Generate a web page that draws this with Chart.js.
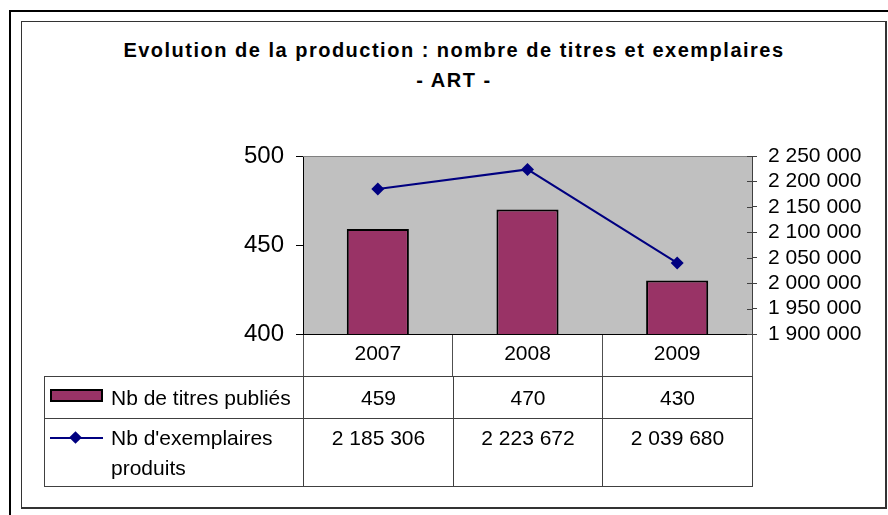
<!DOCTYPE html>
<html lang="fr">
<head>
<meta charset="utf-8">
<title>Evolution de la production - ART</title>
<script src="https://cdn.jsdelivr.net/npm/chart.js@4.4.1/dist/chart.umd.min.js"></script>
<style>
  html, body { margin: 0; padding: 0; background: #fff; }
  body {
    width: 888px; height: 515px; position: relative; overflow: hidden;
    font-family: "Liberation Sans", Arial, sans-serif; color: #000;
  }
  #outer {
    position: absolute; left: 9px; top: 10px; width: 879px; height: 505px;
    border-top: 2px solid #000; border-left: 2px solid #000; box-sizing: border-box;
  }
  #inner {
    position: absolute; left: 21px; top: 21px; width: 866px; height: 488px;
    border: 1px solid #333; border-right-width: 2px; border-bottom-width: 2px;
    box-sizing: border-box;
  }
  #title {
    position: absolute; left: 21px; width: 866px; top: 35px;
    text-align: center; font-weight: bold; font-size: 20px; letter-spacing: 1.5px;
    line-height: 30px;
  }
  #chart { position: absolute; left: 0; top: 0; }
  #dataTable {
    position: absolute; left: 44px; top: 376px;
    border-collapse: collapse; table-layout: fixed; font-size: 21px;
  }
  #dataTable td {
    border: 1px solid #404040; padding: 0; text-align: center;
    box-sizing: border-box; white-space: nowrap;
  }
  #dataTable tr.r1 td { height: 42px; vertical-align: middle; }
  #dataTable tr.r2 td { height: 68px; vertical-align: top; padding-top: 4px; line-height: 30px; }
  #dataTable td.lab { text-align: left; white-space: normal; }
  .lab .wrap { display: flex; align-items: flex-start; }
  .key { flex: 0 0 auto; width: 53px; margin: 0 8px 0 5px; position: relative; }
  .key.bar { height: 13px; background: #993366; border: 2px solid #000; box-sizing: border-box; margin-top: 3px; }
  .key.line { height: 30px; }
  .key.line::before {
    content: ""; position: absolute; left: 0; right: 0; top: 14px; height: 2px; background: #000080;
  }
  .key.line::after {
    content: ""; position: absolute; left: 21px; top: 10px; width: 9px; height: 9px;
    background: #000080; transform: rotate(45deg);
  }
</style>
</head>
<body>
<div id="outer"></div>
<div id="inner"></div>
<div id="title">Evolution de la production : nombre de titres et exemplaires<br>- ART -</div>
<canvas id="chart" width="888" height="515"></canvas>
<table id="dataTable"></table>

<script>
const years = ['2007', '2008', '2009'];
const titres = [459, 470, 430];
const exemplaires = [2185306, 2223672, 2039680];
const titresLabel = 'Nb de titres publiés';
const exemplairesLabel = "Nb d'exemplaires produits";
const leftAxis = { min: 400, max: 500, step: 50 };
const rightAxis = { min: 1900000, max: 2250000, step: 50000 };

const FONT = '"Liberation Sans", Arial, sans-serif';

// 2185306 -> "2 185 306"
function fmt(n) {
  return String(n).replace(/\B(?=(\d{3})+(?!\d))/g, ' ');
}

// grey plot background, top border, inner tick marks of the right axis
const plotFrame = {
  id: 'plotFrame',
  beforeDraw(chart) {
    const { ctx, chartArea: a } = chart;
    ctx.save();
    ctx.fillStyle = '#c0c0c0';
    ctx.fillRect(a.left, a.top, a.right - a.left, a.bottom - a.top);
    ctx.restore();
  },
  beforeDatasetsDraw(chart) {
    const { ctx, chartArea: a } = chart;
    const y1 = chart.scales.y1;
    ctx.save();
    ctx.lineWidth = 1;
    ctx.strokeStyle = '#808080';
    ctx.beginPath();
    ctx.moveTo(a.left, a.top + 0.5);
    ctx.lineTo(a.right, a.top + 0.5);
    ctx.stroke();
    ctx.strokeStyle = '#404040';
    ctx.beginPath();
    y1.ticks.forEach((t, i) => {
      const y = Math.round(y1.getPixelForTick(i)) + 0.5;
      ctx.moveTo(a.right - 5, y);
      ctx.lineTo(a.right, y);
    });
    ctx.stroke();
    ctx.restore();
  }
};

new Chart(document.getElementById('chart'), {
  data: {
    labels: years,
    datasets: [{
      type: 'line',
      label: exemplairesLabel,
      data: exemplaires,
      yAxisID: 'y1',
      borderColor: '#000080',
      backgroundColor: '#000080',
      borderWidth: 2,
      tension: 0,
      pointStyle: 'rectRot',
      pointRadius: 6.5,
      pointBackgroundColor: '#000080',
      pointBorderWidth: 0,
      order: 1
    }, {
      type: 'bar',
      label: titresLabel,
      data: titres,
      yAxisID: 'y',
      backgroundColor: '#993366',
      borderColor: '#000',
      borderWidth: 2,
      borderSkipped: false,
      categoryPercentage: 1,
      barPercentage: 0.415,
      order: 2
    }]
  },
  options: {
    responsive: false,
    animation: false,
    devicePixelRatio: 1,
    layout: { padding: { top: 156, bottom: 139, left: 0, right: 0 } },
    plugins: {
      legend: { display: false },
      tooltip: { enabled: false },
      title: { display: false }
    },
    scales: {
      x: {
        offset: true,
        grid: { display: true, drawOnChartArea: false, offset: true, tickLength: 42, color: '#505050' },
        border: { display: true, color: '#000' },
        ticks: { font: { family: FONT, size: 21 }, color: '#000', padding: -34, maxRotation: 0 },
        afterFit(scale) { scale.height = 42; }
      },
      y: {
        position: 'left',
        min: leftAxis.min,
        max: leftAxis.max,
        ticks: { stepSize: leftAxis.step, font: { family: FONT, size: 24 }, color: '#000', padding: 12, autoSkip: false },
        grid: { drawOnChartArea: false, tickLength: 7, color: '#000' },
        border: { color: '#000' },
        afterFit(scale) { scale.width = 303; }
      },
      y1: {
        position: 'right',
        min: rightAxis.min,
        max: rightAxis.max,
        ticks: {
          stepSize: rightAxis.step, font: { family: FONT, size: 21 }, color: '#000', padding: 11,
          autoSkip: false,
          callback: v => fmt(v)
        },
        grid: { drawOnChartArea: false, tickLength: 5, color: '#404040' },
        border: { color: '#404040' },
        afterFit(scale) { scale.width = 136; }
      }
    }
  },
  plugins: [plotFrame]
});

// data table under the plot, built from the same arrays
const table = document.getElementById('dataTable');
const colWidths = [259, 150, 149, 150];
table.innerHTML =
  '<colgroup>' + colWidths.map(w => `<col style="width:${w}px">`).join('') + '</colgroup>' +
  `<tr class="r1"><td class="lab"><div class="wrap"><span class="key bar"></span><span>${titresLabel}</span></div></td>` +
  titres.map(v => `<td>${fmt(v)}</td>`).join('') + '</tr>' +
  `<tr class="r2"><td class="lab"><div class="wrap"><span class="key line"></span><span>${exemplairesLabel}</span></div></td>` +
  exemplaires.map(v => `<td>${fmt(v)}</td>`).join('') + '</tr>';
table.style.width = colWidths.reduce((a, b) => a + b, 0) + 'px';
</script>
</body>
</html>
